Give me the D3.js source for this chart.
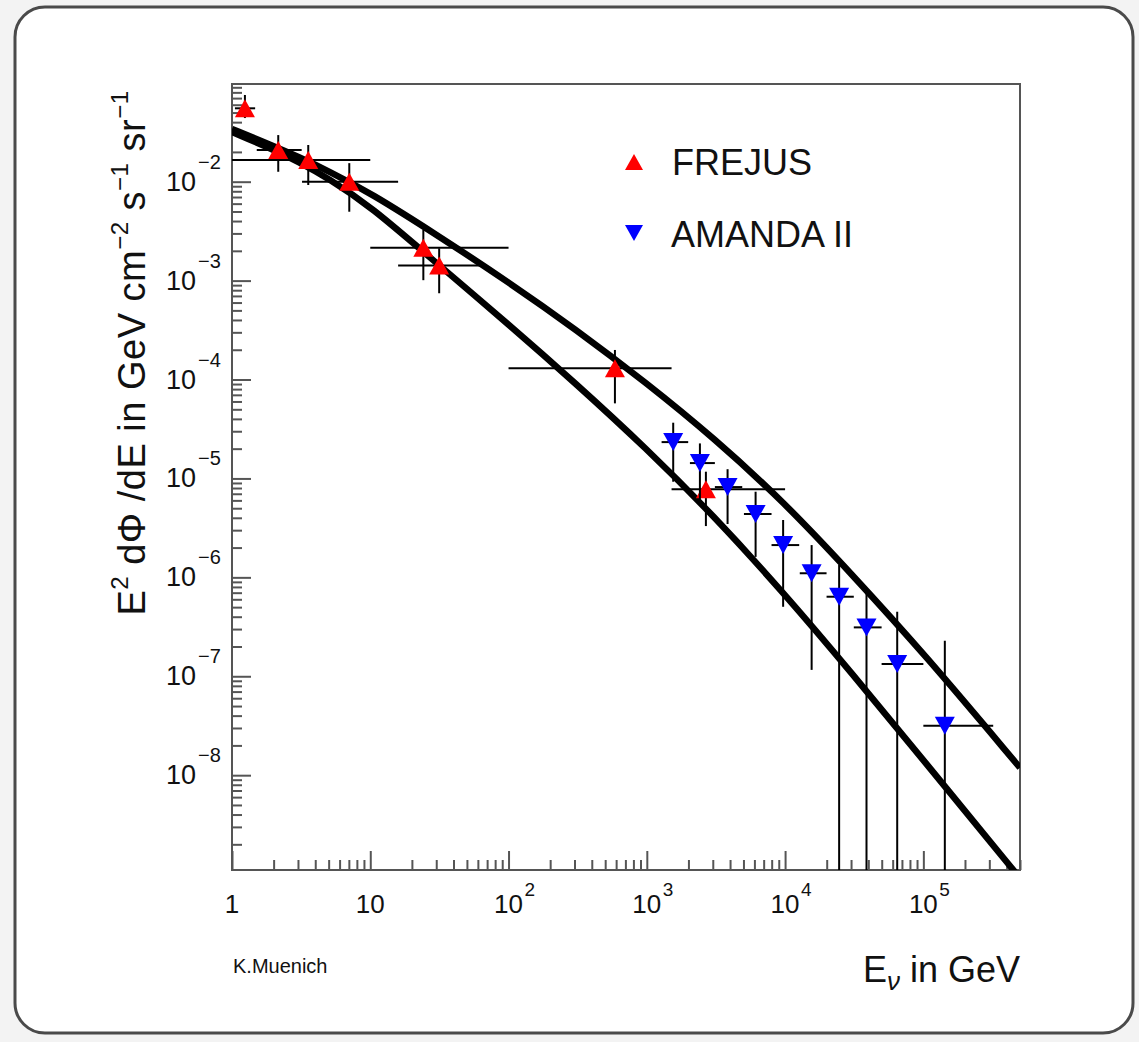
<!DOCTYPE html>
<html>
<head>
<meta charset="utf-8">
<script src="https://cdn.jsdelivr.net/npm/d3@7"></script>
<style>
body { margin: 0; background: #f3f3f3; }
text { font-family: "Liberation Sans", Arial, sans-serif; fill: #111; }
</style>
</head>
<body>
<div class="plot"></div>
<script>

// FREJUS (up triangles): energy, flux, flux errors, energy bin edges
const frejusE      = [1.24, 2.16, 3.56, 7.05, 24.2, 31.5, 588, 2675];
const frejusFlux   = [0.0552, 0.0209, 0.0166, 0.0100, 0.00215, 0.00142, 1.30e-4, 7.76e-6];
const frejusFluxHi = [0.0753, 0.0296, 0.0235, 0.0154, 0.00325, 0.00212, 1.99e-4, 1.17e-5];
const frejusFluxLo = [0.0440, 0.0126, 0.00926, 0.00497, 0.00101, 0.000745, 5.74e-5, 3.30e-6];
const frejusElo    = [1.05, 1.51, 1.0, 3.21, 10, 15.9, 100, 1510];
const frejusEhi    = [1.47, 3.19, 10, 15.9, 100, 62.1, 1510, 10000];

// AMANDA II (down triangles), last lower errors run off the bottom
const amandaE      = [1552, 2421, 3838, 6120, 9680, 15560, 24600, 38800, 64700, 143000];
const amandaFlux   = [2.33e-5, 1.43e-5, 8.18e-6, 4.37e-6, 2.12e-6, 1.10e-6, 6.37e-7, 3.12e-7, 1.33e-7, 3.16e-8];
const amandaFluxHi = [3.66e-5, 2.26e-5, 1.24e-5, 7.34e-6, 3.80e-6, 2.12e-6, 1.33e-6, 7.44e-7, 4.49e-7, 2.29e-7];
const amandaFluxLo = [9.26e-6, 6.05e-6, 3.46e-6, 1.61e-6, 5.04e-7, 1.16e-7, 1e-10, 1e-10, 1e-10, 1e-10];
const amandaElo    = [1279, 2050, 3106, 5040, 7980, 12770, 19950, 31400, 49900, 100000];
const amandaEhi    = [1992, 3106, 4900, 7980, 12650, 19950, 31400, 49900, 100000, 320000];

// atmospheric flux curves
const curveE     = [1, 2, 3, 5, 10, 30, 100, 300, 1e3, 3e3, 1e4, 3e4, 1e5, 5e5];
const upperFlux  = [0.0341, 0.0229, 0.0179, 0.0128, 0.00772, 0.00293, 9.66e-4, 3.29e-4, 9.18e-5, 2.62e-5, 5.64e-6, 1.095e-6, 1.73e-7, 1.19e-8];
const lowerFlux  = [0.0318, 0.0210, 0.0160, 0.0108, 0.00568, 0.00151, 3.62e-4, 9.37e-5, 1.99e-5, 4.29e-6, 6.73e-7, 1.10e-7, 1.42e-8, 9.1e-10];

const xLabelDecades = [0, 1, 2, 3, 4, 5];
const yLabelDecades = [-2, -3, -4, -5, -6, -7, -8];

const width = 1139;
const height = 1042;
const frame = { left: 232, right: 1020, top: 84, bottom: 870 };

const svg = d3.select(".plot")
    .append("svg")
    .attr("width", width)
    .attr("height", height);

svg.append("rect")
    .attr("x", 15).attr("y", 7)
    .attr("width", 1118).attr("height", 1026)
    .attr("rx", 30)
    .style("fill", "#fff")
    .style("stroke", "#4a4a4a")
    .style("stroke-width", 3);

const x = d3.scaleLog()
    .domain([1, 5e5])
    .range([frame.left, frame.right]);

const y = d3.scaleLog()
    .domain([1.1e-9, 0.0972])
    .range([frame.bottom, frame.top]);

svg.append("clipPath").attr("id", "clip")
    .append("rect")
    .attr("x", frame.left).attr("y", frame.top)
    .attr("width", frame.right - frame.left)
    .attr("height", frame.bottom - frame.top);

// ticks (inside, ROOT style)
const isDecade = function (v) { return Math.abs(Math.log10(v) - Math.round(Math.log10(v))) < 1e-9; };
const xTicks = x.ticks(20);
const yTicks = y.ticks(20);

function styleAxis(g) {
    g.select(".domain").remove();
    g.selectAll("line").style("stroke", "#555").style("stroke-width", 2);
}

svg.append("g")
    .attr("transform", "translate(0," + frame.bottom + ")")
    .call(d3.axisBottom(x).tickValues(xTicks.filter(function (v) { return !isDecade(v); })).tickSize(-10).tickFormat(""))
    .call(styleAxis);
svg.append("g")
    .attr("transform", "translate(0," + frame.bottom + ")")
    .call(d3.axisBottom(x).tickValues(xTicks.filter(isDecade)).tickSize(-19).tickFormat(""))
    .call(styleAxis);
svg.append("g")
    .attr("transform", "translate(" + frame.left + ",0)")
    .call(d3.axisLeft(y).tickValues(yTicks.filter(function (v) { return !isDecade(v); })).tickSize(-10).tickFormat(""))
    .call(styleAxis);
svg.append("g")
    .attr("transform", "translate(" + frame.left + ",0)")
    .call(d3.axisLeft(y).tickValues(yTicks.filter(isDecade)).tickSize(-19).tickFormat(""))
    .call(styleAxis);

svg.append("rect")
    .attr("x", frame.left).attr("y", frame.top)
    .attr("width", frame.right - frame.left)
    .attr("height", frame.bottom - frame.top)
    .style("fill", "none")
    .style("stroke", "#555")
    .style("stroke-width", 2);

// tick labels
xLabelDecades.forEach(function (k) {
    const px = x(Math.pow(10, k));
    svg.append("text")
        .attr("x", px).attr("y", 913)
        .attr("text-anchor", "middle")
        .style("font-size", "26px")
        .text(k === 0 ? "1" : "10");
    if (k > 1) {
        svg.append("text")
            .attr("x", px + 16).attr("y", 896)
            .style("font-size", "19px")
            .text(k);
    }
});

yLabelDecades.forEach(function (k) {
    const py = y(Math.pow(10, k));
    svg.append("text")
        .attr("x", 196).attr("y", py + 9)
        .attr("text-anchor", "end")
        .style("font-size", "27px")
        .text("10");
    svg.append("text")
        .attr("x", 198).attr("y", py - 13)
        .style("font-size", "20px")
        .text("\u2212" + (-k));
});

// curves
const line = d3.line()
    .x(function (d) { return x(d[0]); })
    .y(function (d) { return y(d[1]); })
    .curve(d3.curveBasis);

[upperFlux, lowerFlux].forEach(function (flux) {
    svg.append("path")
        .datum(d3.zip(curveE, flux))
        .attr("clip-path", "url(#clip)")
        .attr("d", line)
        .style("fill", "none")
        .style("stroke", "#000")
        .style("stroke-width", 6.5)
        .style("stroke-linejoin", "round");
});

// error bars + markers
const upTri = "M0,-9L10,9L-10,9Z";
const downTri = "M0,9L10,-9L-10,-9Z";

function drawSet(E, F, Fhi, Flo, Elo, Ehi, shape, color) {
    const data = E.map(function (e, i) {
        return { e: e, f: F[i], fhi: Fhi[i], flo: Flo[i], elo: Elo[i], ehi: Ehi[i] };
    });
    const g = svg.append("g").attr("clip-path", "url(#clip)");
    g.selectAll(".hbar").data(data).enter().append("line")
        .attr("x1", function (d) { return x(d.elo); })
        .attr("x2", function (d) { return x(d.ehi); })
        .attr("y1", function (d) { return y(d.f); })
        .attr("y2", function (d) { return y(d.f); })
        .style("stroke", "#000").style("stroke-width", 2);
    g.selectAll(".vbar").data(data).enter().append("line")
        .attr("x1", function (d) { return x(d.e); })
        .attr("x2", function (d) { return x(d.e); })
        .attr("y1", function (d) { return y(d.fhi); })
        .attr("y2", function (d) { return y(d.flo); })
        .style("stroke", "#000").style("stroke-width", 2);
    svg.append("g").selectAll("path").data(data).enter().append("path")
        .attr("d", shape)
        .attr("transform", function (d) { return "translate(" + x(d.e) + "," + y(d.f) + ")"; })
        .style("fill", color);
}

drawSet(frejusE, frejusFlux, frejusFluxHi, frejusFluxLo, frejusElo, frejusEhi, upTri, "#ff0000");
drawSet(amandaE, amandaFlux, amandaFluxHi, amandaFluxLo, amandaElo, amandaEhi, downTri, "#0000ff");

// legend
svg.append("path").attr("d", "M0,-8L9,8L-9,8Z").attr("transform", "translate(634,162)").style("fill", "#ff0000");
svg.append("text").attr("x", 672).attr("y", 175).style("font-size", "36px").text("FREJUS");
svg.append("path").attr("d", "M0,8L9,-8L-9,-8Z").attr("transform", "translate(634,233)").style("fill", "#0000ff");
svg.append("text").attr("x", 671).attr("y", 247).style("font-size", "36px").text("AMANDA II");

// axis titles
const xt = svg.append("text")
    .attr("x", 1020).attr("y", 982)
    .attr("text-anchor", "end")
    .style("font-size", "36px");
xt.append("tspan").text("E");
xt.append("tspan").attr("dy", 8).style("font-size", "26px").style("font-style", "italic").text("\u03bd");
xt.append("tspan").attr("dy", -8).text(" in GeV");

const yt = svg.append("text")
    .attr("transform", "translate(145,353) rotate(-90)")
    .attr("text-anchor", "middle")
    .style("font-size", "38px")
    .style("letter-spacing", "0.5px");
yt.append("tspan").text("E");
yt.append("tspan").attr("dy", -17).style("font-size", "24px").text("2");
yt.append("tspan").attr("dy", 17).text(" d\u03a6 /dE in GeV cm");
yt.append("tspan").attr("dy", -17).style("font-size", "24px").text("\u22122");
yt.append("tspan").attr("dy", 17).text(" s");
yt.append("tspan").attr("dy", -17).style("font-size", "24px").text("\u22121");
yt.append("tspan").attr("dy", 17).text(" sr");
yt.append("tspan").attr("dy", -17).style("font-size", "24px").text("\u22121");

svg.append("text")
    .attr("x", 233).attr("y", 973)
    .style("font-size", "20px")
    .text("K.Muenich");

</script>
</body>
</html>
